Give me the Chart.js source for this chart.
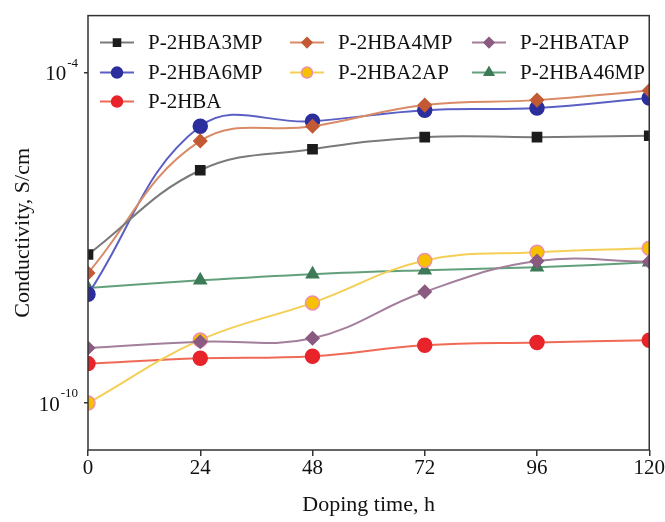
<!DOCTYPE html>
<html>
<head>
<meta charset="utf-8">
<script src="https://cdn.jsdelivr.net/npm/chart.js@4/dist/chart.umd.min.js"></script>
<style>
  html, body { margin: 0; padding: 0; background: #fff; }
  #wrap { width: 665px; height: 522px; }
</style>
</head>
<body>
<div id="wrap"><canvas id="c" width="665" height="522"></canvas></div>
<script>
// Doping time (h) and conductivity (S/cm)
const hours = [0, 24, 48, 72, 96, 120];
const xTicks = [0, 24, 48, 72, 96, 120];
const yTicks = [1e-4, 1e-10];

const p2hba3mp  = [5.0e-8, 1.7e-6, 4.1e-6, 6.8e-6, 6.8e-6, 7.2e-6];
const p2hba4mp  = [2.3e-8, 5.8e-6, 1.07e-5, 2.6e-5, 3.2e-5, 4.8e-5];
const p2hbatap  = [1.0e-9, 1.3e-9, 1.5e-9, 1.05e-8, 3.8e-8, 3.7e-8];
const p2hba6mp  = [9.5e-9, 1.07e-5, 1.32e-5, 2.1e-5, 2.3e-5, 3.5e-5];
const p2hba2ap  = [1.0e-10, 1.4e-9, 6.6e-9, 3.9e-8, 5.5e-8, 6.5e-8];
const p2hba46mp = [1.23e-8, 1.7e-8, 2.2e-8, 2.6e-8, 2.95e-8, 3.6e-8];
const p2hba     = [5.2e-10, 6.5e-10, 7.1e-10, 1.12e-9, 1.26e-9, 1.38e-9];

const FONT = '"Liberation Serif", "Times New Roman", serif';

function series(label, values, line, fill, border, style, radius) {
  return {
    label: label,
    data: values.map((v, i) => ({ x: hours[i], y: v })),
    borderColor: line,
    borderWidth: 2,
    tension: 0.4,
    pointStyle: style,
    pointRadius: radius,
    pointHoverRadius: radius,
    pointBackgroundColor: fill,
    pointBorderColor: border,
    pointBorderWidth: 1.5
  };
}

// order follows the legend: row by row, three columns
const datasets = [
  series('P-2HBA3MP',  p2hba3mp,  '#7a7a7a', '#1c1c1c', '#1c1c1c', 'rect', 6.5),
  series('P-2HBA4MP',  p2hba4mp,  '#d98a66', '#c35a34', '#c35a34', 'rectRot', 6.5),
  series('P-2HBATAP',  p2hbatap,  '#a47f9c', '#8a5a80', '#8a5a80', 'rectRot', 6.5),
  series('P-2HBA6MP',  p2hba6mp,  '#5b5fc4', '#2b2e9c', '#2b2e9c', 'circle', 7),
  series('P-2HBA2AP',  p2hba2ap,  '#f5cf55', '#f6c100', '#ec8fb0', 'circle', 7),
  series('P-2HBA46MP', p2hba46mp, '#62a07b', '#3d7a57', '#3d7a57', 'triangle', 7),
  series('P-2HBA',     p2hba,     '#f06a55', '#e8232a', '#e8232a', 'circle', 7)
];

// box around the plot, the in-plot legend and the 10^n labels
const decor = {
  id: 'decor',
  afterDraw(chart) {
    const ctx = chart.ctx;
    const a = chart.chartArea;
    ctx.save();
    ctx.strokeStyle = '#333';
    ctx.lineWidth = 1.5;
    ctx.strokeRect(a.left, a.top, a.right - a.left, a.bottom - a.top);

    // y labels as 10 with superscript exponent
    const y = chart.scales.y;
    ctx.fillStyle = '#111';
    ctx.textBaseline = 'middle';
    yTicks.forEach(v => {
      const py = y.getPixelForValue(v);
      const exp = String(Math.round(Math.log10(v)));
      ctx.font = '13px ' + FONT;
      const ew = ctx.measureText(exp).width;
      ctx.textAlign = 'right';
      ctx.fillText(exp, a.left - 10, py - 9);
      ctx.font = '21px ' + FONT;
      ctx.fillText('10', a.left - 11 - ew, py + 2);
    });

    // legend inside the plot
    const colX = [a.left + 12, a.left + 202, a.left + 384];
    const rowY = [a.top + 27, a.top + 57, a.top + 86];
    ctx.font = '21px ' + FONT;
    ctx.textAlign = 'left';
    chart.data.datasets.forEach((ds, i) => {
      const cx = colX[i % 3], cy = rowY[Math.floor(i / 3)];
      ctx.strokeStyle = ds.borderColor;
      ctx.lineWidth = 2;
      ctx.beginPath();
      ctx.moveTo(cx, cy);
      ctx.lineTo(cx + 34, cy);
      ctx.stroke();
      ctx.fillStyle = ds.pointBackgroundColor;
      ctx.strokeStyle = ds.pointBorderColor;
      ctx.lineWidth = ds.pointBorderWidth;
      Chart.helpers.drawPoint(ctx, {
        pointStyle: ds.pointStyle, radius: ds.pointRadius - 1.5, rotation: 0, borderWidth: ds.pointBorderWidth
      }, cx + 17, cy);
      ctx.fillStyle = '#111';
      ctx.fillText(ds.label, cx + 48, cy + 1);
    });
    ctx.restore();
  }
};

new Chart(document.getElementById('c'), {
  type: 'line',
  data: { datasets: datasets },
  plugins: [decor],
  options: {
    responsive: false,
    animation: false,
    layout: { padding: { left: 0, right: 15, top: 11, bottom: 0 } },
    plugins: {
      legend: { display: false },
      tooltip: { enabled: false }
    },
    scales: {
      x: {
        type: 'linear',
        min: 0,
        max: 120,
        afterBuildTicks: s => { s.ticks = xTicks.map(v => ({ value: v })); },
        afterFit: s => { s.height = 72; },
        grid: { display: true, drawOnChartArea: false, drawTicks: true, tickLength: 6, color: '#333', lineWidth: 1.5 },
        border: { display: false },
        ticks: { color: '#111', font: { family: FONT, size: 21 }, padding: 0, maxRotation: 0 },
        title: { display: true, text: 'Doping time, h', color: '#111', font: { family: FONT, size: 22 }, padding: { top: 8 } }
      },
      y: {
        type: 'logarithmic',
        min: 1.4e-11,
        max: 1.1e-3,
        afterBuildTicks: s => { s.ticks = yTicks.map(v => ({ value: v })); },
        afterFit: s => { s.width = 88; },
        grid: { display: true, drawOnChartArea: false, drawTicks: true, tickLength: 4, color: '#333', lineWidth: 1.5 },
        border: { display: false },
        ticks: { callback: () => '', font: { family: FONT, size: 21 } },
        title: { display: true, text: 'Conductivity, S/cm', color: '#111', font: { family: FONT, size: 22 }, padding: { top: 10, bottom: 0 } }
      }
    }
  }
});
</script>
</body>
</html>
